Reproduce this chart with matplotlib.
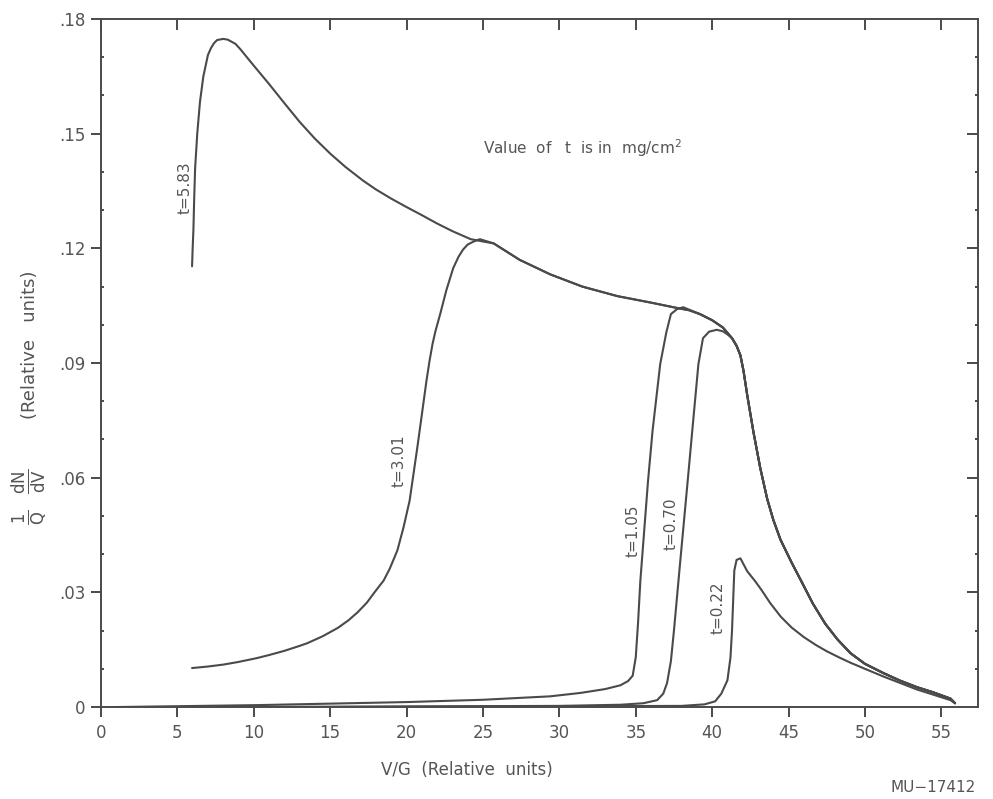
import numpy as np
import matplotlib.pyplot as plt
from matplotlib.ticker import MultipleLocator

# --- Data (V/G in relative units, (1/Q) dN/dV) ---
# shared falling edge (envelope) that every curve joins after its peak
tail_x = [25.7, 27.4, 29.4, 31.5, 33.8, 36.0, 37.7, 38.5, 39.2, 40.0, 40.7, 41.3,
          41.6, 41.85, 42.05, 42.3, 42.7, 43.15, 43.6, 44.0, 44.47, 45.2, 45.8,
          46.6, 47.4, 48.2, 49.05, 50.0, 51.2, 52.3, 53.4, 54.5, 55.6, 55.9]
tail_y = [0.1213, 0.1170, 0.1132, 0.1100, 0.1075, 0.1058, 0.1044, 0.1038, 0.1028,
          0.1012, 0.0993, 0.0965, 0.0945, 0.0920, 0.0880, 0.0815, 0.0720, 0.0625,
          0.0545, 0.0490, 0.0438, 0.0378, 0.0332, 0.0270, 0.0218, 0.0177, 0.0141,
          0.0113, 0.0089, 0.0069, 0.0052, 0.0038, 0.0022, 0.0010]

t583_x = [5.96, 6.0, 6.05, 6.1, 6.16, 6.3, 6.48, 6.7, 7.0, 7.2, 7.4, 7.6, 8.0, 8.3,
          8.8, 9.1, 10, 11, 12, 13, 14, 15, 16, 17.16, 18, 19, 20, 20.9, 22, 23,
          24.2, 25.0]
t583_y = [0.1153, 0.1200, 0.1250, 0.1330, 0.1409, 0.1500, 0.1584, 0.1650, 0.1706,
          0.1724, 0.1737, 0.1745, 0.1748, 0.1746, 0.1735, 0.1722, 0.1678, 0.1630,
          0.1580, 0.1531, 0.1487, 0.1448, 0.1413, 0.1377, 0.1354, 0.1330, 0.1308,
          0.1289, 0.1265, 0.1245, 0.1224, 0.1218]

t301_x = [5.96, 7, 8, 9, 10.2, 11, 12, 13, 13.5, 14.5, 15.5, 16.2, 16.8, 17.4, 17.9,
          18.5, 18.9, 19.4, 19.8, 20.2, 20.7, 21.0, 21.3, 21.5, 21.7, 21.9, 22.2,
          22.6, 23.05, 23.4, 23.7, 24.0, 24.4, 24.8]
t301_y = [0.0102, 0.0106, 0.0111, 0.0118, 0.0128, 0.0136, 0.0147, 0.0160, 0.0167,
          0.0185, 0.0207, 0.0227, 0.0248, 0.0273, 0.0300, 0.0331, 0.0362, 0.0410,
          0.0470, 0.0540, 0.0678, 0.0765, 0.0853, 0.0905, 0.0950, 0.0985, 0.1028,
          0.1090, 0.1148, 0.1178, 0.1197, 0.1210, 0.1218, 0.1224]

t105_x = [1.0, 10.2, 20, 25, 29.4, 31.4, 33, 34.0, 34.5, 34.8, 35.0, 35.15, 35.3,
          35.8, 36.1, 36.6, 37.0, 37.3, 37.7, 38.1]
t105_y = [0.0, 0.0005, 0.0013, 0.0019, 0.0028, 0.0037, 0.0047, 0.0057, 0.0068,
          0.0082, 0.0130, 0.0220, 0.0330, 0.0590, 0.0723, 0.0897, 0.0980, 0.1028,
          0.1041, 0.1046]

t070_x = [8, 30, 34, 35.5, 36.4, 36.8, 37.05, 37.3, 37.5, 37.9, 38.4, 38.8, 39.1,
          39.4, 39.8, 40.3, 40.7, 41.0]
t070_y = [0.0, 0.0003, 0.0006, 0.0010, 0.0018, 0.0035, 0.0063, 0.0120, 0.0200,
          0.0376, 0.0592, 0.0767, 0.0897, 0.0965, 0.0982, 0.0987, 0.0983, 0.0975]

t022_x = [15, 38, 39.5, 40.2, 40.6, 41.0, 41.2, 41.3, 41.45, 41.6, 41.85, 42.3, 42.8,
          43.2, 43.8, 44.5, 45.2, 46, 46.8, 47.5, 48.3, 49.05, 50.0, 51.2, 53.4,
          55.6, 55.9]
t022_y = [0.0, 0.0003, 0.0007, 0.0015, 0.0035, 0.0070, 0.0130, 0.0200, 0.0357,
          0.0385, 0.0389, 0.0355, 0.0330, 0.0308, 0.0272, 0.0236, 0.0208, 0.0183,
          0.0162, 0.0146, 0.0130, 0.0116, 0.0100, 0.0080, 0.0046, 0.0018, 0.0010]

labels = ['t=5.83', 't=3.01', 't=1.05', 't=0.70', 't=0.22']
label_x = [5.5, 19.5, 34.8, 37.3, 40.4]
label_y = [0.136, 0.0644, 0.046, 0.048, 0.026]

x_ticks = list(range(0, 60, 5))
y_ticks = [0, 0.03, 0.06, 0.09, 0.12, 0.15, 0.18]
y_ticklabels = ['0', '.03', '.06', '.09', '.12', '.15', '.18']

INK = '#4a4a4a'
TXT = '#555555'

fig = plt.figure(figsize=(9.93, 7.99), dpi=100)
ax = fig.add_axes([0.1017, 0.1151, 0.8832, 0.8611])

curves = [
    (t583_x + tail_x, t583_y + tail_y),
    (t301_x + tail_x, t301_y + tail_y),
    (t105_x + tail_x[8:], t105_y + tail_y[8:]),
    (t070_x + tail_x[11:], t070_y + tail_y[11:]),
    (t022_x, t022_y),
]
for cx, cy in curves:
    ax.plot(cx, cy, color=INK, lw=1.5, solid_capstyle='round', solid_joinstyle='round')

for lab, lx, ly in zip(labels, label_x, label_y):
    ax.text(lx, ly, lab, rotation=90, ha='center', va='center', fontsize=11, color=TXT)

ax.text(25.0, 0.1448, 'Value  of   t  is in  mg/cm$^2$', fontsize=11, color=TXT,
        ha='left', va='baseline')

ax.set_xlim(0, 57.4)
ax.set_ylim(0, 0.18)

for s in ax.spines.values():
    s.set_color(INK)
    s.set_linewidth(1.4)

ax.set_xticks(x_ticks)
ax.set_xticklabels([str(v) for v in x_ticks])
ax.set_yticks(y_ticks)
ax.set_yticklabels(y_ticklabels)
ax.yaxis.set_minor_locator(MultipleLocator(0.01))

ax.tick_params(axis='x', which='major', direction='out', length=7, width=1.4,
               color=INK, labelcolor=TXT, labelsize=12, pad=5)
ax.tick_params(axis='y', which='major', direction='out', length=7, width=1.4,
               color=INK, labelcolor=TXT, labelsize=12, pad=4)
ax.tick_params(axis='y', which='minor', direction='in', length=2, width=1.4,
               color=INK, right=True)

# inward ticks on top and right, outward on bottom and left
sec_x = ax.secondary_xaxis('top')
sec_x.set_xticks(x_ticks)
sec_x.tick_params(direction='in', length=8, width=1.4, color=INK, labeltop=False)
sec_x.spines['top'].set_visible(False)
sec_y = ax.secondary_yaxis('right')
sec_y.set_yticks(y_ticks[1:-1])
sec_y.tick_params(direction='in', length=8, width=1.4, color=INK, labelright=False)
sec_y.spines['right'].set_visible(False)

fig.text(467 / 993, 1 - 770 / 799, 'V/G  (Relative  units)', ha='center', va='center',
         fontsize=12, color=TXT)
fig.text(30 / 993, 1 - 345 / 799, '(Relative   units)',
         rotation=90, ha='center', va='center', fontsize=13, color=TXT)
fig.text(30 / 993, 1 - 497 / 799,
         r'$\frac{1}{\mathrm{Q}}\ \ \frac{\mathrm{dN}}{\mathrm{dV}}$',
         rotation=90, ha='center', va='center', fontsize=17, color=TXT)
fig.text(933 / 993, 1 - 788 / 799, 'MU\u221217412', ha='center', va='center',
         fontsize=11, color=TXT)

fig.savefig('out.png', dpi=100, facecolor='white')
